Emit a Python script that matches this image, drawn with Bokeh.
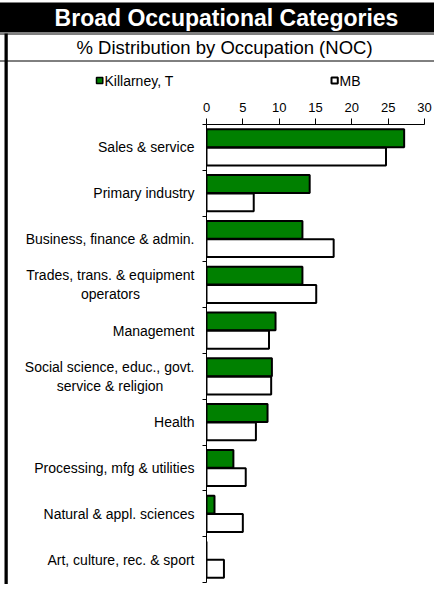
from bokeh.plotting import figure
from bokeh.models import (ColumnDataSource, Range1d, LinearAxis,
                          FixedTicker, CustomJSTickFormatter, Label)
from bokeh.transform import dodge
from bokeh.embed import file_html
from bokeh.resources import INLINE

title = "Broad Occupational Categories"
subtitle = "% Distribution by Occupation (NOC)"
NB = "\u00a0"
categories = ["Sales & service", "Primary industry", "Business, finance & admin.",
              "Trades, trans. & equipment\noperators" + NB * 14, "Management",
              "Social science, educ., govt.\nservice & religion" + NB * 8, "Health",
              "Processing, mfg & utilities", "Natural & appl. sciences",
              "Art, culture, rec. & sport"]
killarney = [27.2, 14.2, 13.2, 13.2, 9.5, 9.0, 8.4, 3.7, 1.1, 0.0]
mb = [24.7, 6.5, 17.5, 15.1, 8.6, 8.9, 6.8, 5.4, 5.0, 2.4]
series_names = ["Killarney, T", "MB"]
x_ticks = [0, 5, 10, 15, 20, 25, 30]

FONT = "Liberation Sans"
GREEN = "#008000"
W, H = 434, 584

n = len(categories)
ypos = [n - i - 0.5 for i in range(n)]
src = ColumnDataSource(dict(y=ypos, cat=categories, k=killarney, m=mb))

p = figure(width=W, height=H, title=None, output_backend="svg", toolbar_location=None,
           x_range=Range1d(0, 30), y_range=Range1d(0, n),
           x_axis_location="above", y_axis_location=None,
           min_border_left=206, min_border_right=10, min_border_top=124, min_border_bottom=2)
p.outline_line_color = None
p.xgrid.visible = False
p.ygrid.visible = False

xa = p.xaxis[0]
xa.ticker = FixedTicker(ticks=x_ticks)
xa.major_tick_out = 6
xa.major_tick_in = 0
xa.minor_tick_line_color = None
xa.axis_line_color = "black"
xa.major_tick_line_color = "black"
xa.major_label_text_font = FONT
xa.major_label_text_font_size = "13px"
xa.major_label_text_color = "black"
xa.major_label_standoff = 7

tick_axis = LinearAxis(ticker=FixedTicker(ticks=list(range(n + 1))),
                       formatter=CustomJSTickFormatter(code="return ''"),
                       major_tick_out=4, major_tick_in=0, minor_tick_line_color=None,
                       axis_line_color="black", major_tick_line_color="black",
                       major_label_standoff=0, major_label_text_font_size="1px")
p.add_layout(tick_axis, "left")
lab_axis = LinearAxis(ticker=FixedTicker(ticks=ypos),
                      major_label_overrides={yv: c for yv, c in zip(ypos, categories)},
                      axis_line_color=None, major_tick_line_color=None, minor_tick_line_color=None,
                      major_tick_out=0, major_tick_in=0,
                      major_label_standoff=8, major_label_text_font=FONT,
                      major_label_text_font_size="14px", major_label_text_color="black",
                      major_label_text_line_height=1.18)
p.add_layout(lab_axis, "left")

r1 = p.hbar(y=dodge("y", 0.2), right="k", height=0.39, source=src,
            fill_color=GREEN, line_color="black", line_width=2)
r2 = p.hbar(y=dodge("y", -0.2), right="m", height=0.39, source=src,
            fill_color="white", line_color="black", line_width=2)


def clabel(x, y, text, **kw):
    return Label(x=x, y=y, x_units="canvas", y_units="canvas", text=text,
                 text_font=FONT, **kw)


def pad(l, r, t, b):
    return dict(left=l, right=r, top=t, bottom=b)


# header: title bar (label background, anchored by its top edge), subtitle with rule (label border)
p.add_layout(clabel(226, 2, title, text_align="center", text_baseline="top",
                    text_font_style="bold", text_font_size="23px", text_color="white",
                    background_fill_color="black", background_fill_alpha=1,
                    padding=pad(60, 60, 2, 2)), "above")
p.add_layout(clabel(224, 47, subtitle, text_align="center", text_baseline="alphabetic",
                    text_font_size="18.5px", text_color="black",
                    background_fill_color=None, border_line_color="black", border_line_width=1,
                    padding=pad(82, 82, 3, 3)), "above")

# legend texts
p.add_layout(clabel(104, 80, series_names[0], text_align="left", text_baseline="middle",
                    text_font_size="14px", text_color="black"), "above")
p.add_layout(clabel(339, 80, series_names[1], text_align="left", text_baseline="middle",
                    text_font_size="14px", text_color="black"), "above")

# legend swatches
p.add_layout(clabel(96, 77, NB, text_align="left", text_baseline="top", text_font_size="1px",
                    background_fill_color=GREEN, background_fill_alpha=1,
                    border_line_color="black", border_line_width=1.5,
                    padding=pad(0, 6, 0, 5)), "left")
p.add_layout(clabel(331, 77, NB, text_align="left", text_baseline="top", text_font_size="1px",
                    background_fill_color="white", background_fill_alpha=1,
                    border_line_color="black", border_line_width=2,
                    padding=pad(0, 6, 0, 5)), "left")

# left border strip
p.add_layout(clabel(4, 33, NB, text_align="left", text_baseline="top", text_font_size="1px",
                    background_fill_color="black", background_fill_alpha=1,
                    padding=pad(0, 3, 0, 551)), "right")

open("out.html", "w").write(file_html(p, INLINE))
